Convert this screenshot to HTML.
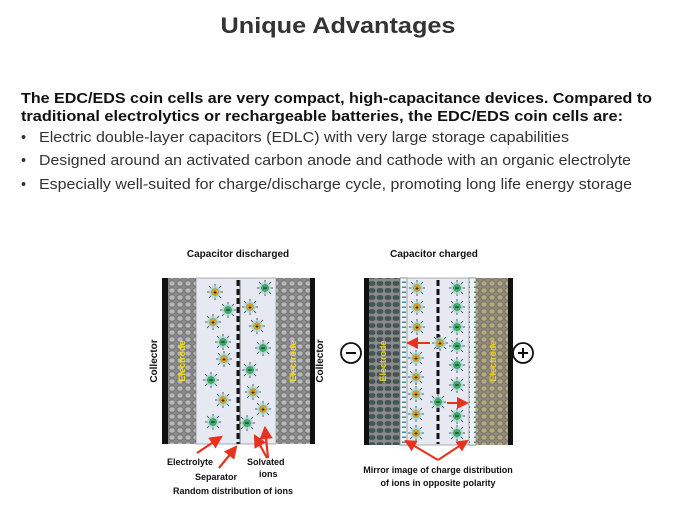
<!DOCTYPE html>
<html><head><meta charset="utf-8"><style>body{margin:0;background:#fff}svg{display:block}</style></head><body>
<svg width="675" height="506" viewBox="0 0 675 506" xmlns="http://www.w3.org/2000/svg" font-family="Liberation Sans, Arial, sans-serif">
<defs>
<pattern id="hex" width="8" height="7" patternUnits="userSpaceOnUse">
<rect width="8" height="7" fill="#8a8a8a"/><rect x="1" y="1" width="6" height="5" rx="2" fill="#b8b8b8" stroke="#555" stroke-width="0.6"/></pattern>
<pattern id="hexd" width="8" height="7" patternUnits="userSpaceOnUse">
<rect width="8" height="7" fill="#8a8a8a"/><rect x="1" y="1.5" width="6" height="4" rx="2" fill="#3d5a55" stroke="#444" stroke-width="0.6"/></pattern>
<pattern id="hext" width="8" height="7" patternUnits="userSpaceOnUse">
<rect width="8" height="7" fill="#8f8a7a"/><rect x="1" y="1" width="6" height="5" rx="2" fill="#b8aa80" stroke="#555" stroke-width="0.6"/></pattern>
<pattern id="strip" width="8" height="5" patternUnits="userSpaceOnUse">
<rect width="8" height="5" fill="#eef4f6"/><rect x="2" y="1.5" width="4" height="1.5" fill="#4a8a9a"/></pattern>
<g id="ip"><g stroke="#333" stroke-width="0.8"><line x1="-8" y1="0" x2="8" y2="0"/><line x1="0" y1="-8" x2="0" y2="8"/><line x1="-6" y1="-6" x2="6" y2="6"/><line x1="-6" y1="6" x2="6" y2="-6"/></g><circle r="6" fill="#a8dcd8" opacity="0.8"/><circle r="3.5" fill="#e0a020" stroke="#885" stroke-width="0.5"/><text y="2.5" font-size="6" text-anchor="middle" font-weight="bold">+</text></g>
<g id="im"><g stroke="#333" stroke-width="0.8"><line x1="-8" y1="0" x2="8" y2="0"/><line x1="0" y1="-8" x2="0" y2="8"/><line x1="-6" y1="-6" x2="6" y2="6"/><line x1="-6" y1="6" x2="6" y2="-6"/></g><circle r="6" fill="#a8dcd8" opacity="0.8"/><circle r="3.5" fill="#40b060" stroke="#265" stroke-width="0.5"/><rect x="-1.8" y="-0.4" width="3.6" height="0.9" fill="#000"/></g>
<marker id="ar" markerWidth="6" markerHeight="6" refX="5" refY="3" orient="auto"><path d="M0,0 L6,3 L0,6z" fill="#e8321e"/></marker>
</defs>
<text x="338" y="33" font-size="22" font-weight="bold" fill="#333" text-anchor="middle" textLength="235" lengthAdjust="spacingAndGlyphs">Unique Advantages</text>
<g font-size="14.5" fill="#111">
<text x="21" y="103" font-weight="bold" textLength="631" lengthAdjust="spacingAndGlyphs">The EDC/EDS coin cells are very compact, high-capacitance devices. Compared to</text>
<text x="21" y="121" font-weight="bold" textLength="602" lengthAdjust="spacingAndGlyphs">traditional electrolytics or rechargeable batteries, the EDC/EDS coin cells are:</text>
<g fill="#333">
<text x="21" y="142">•</text><text x="39" y="142" textLength="530" lengthAdjust="spacingAndGlyphs">Electric double-layer capacitors (EDLC) with very large storage capabilities</text>
<text x="21" y="165">•</text><text x="39" y="165" textLength="592" lengthAdjust="spacingAndGlyphs">Designed around an activated carbon anode and cathode with an organic electrolyte</text>
<text x="21" y="189">•</text><text x="39" y="189" textLength="593" lengthAdjust="spacingAndGlyphs">Especially well-suited for charge/discharge cycle, promoting long life energy storage</text>
</g></g>
<!-- left diagram -->
<text x="238" y="257" font-size="10" font-weight="bold" text-anchor="middle" fill="#111">Capacitor discharged</text>
<rect x="162" y="278" width="6" height="166" fill="#111"/>
<rect x="168" y="278" width="28" height="166" fill="url(#hex)"/>
<rect x="196" y="278" width="80" height="166" fill="#e6e9f2" stroke="#666" stroke-width="0.5"/>
<rect x="276" y="278" width="34" height="166" fill="url(#hex)"/>
<rect x="310" y="278" width="5" height="166" fill="#111"/>
<line x1="238" y1="280" x2="238" y2="444" stroke="#111" stroke-width="3" stroke-dasharray="6,3"/>
<line x1="240" y1="280" x2="240" y2="444" stroke="#666" stroke-width="1"/>
<text transform="translate(185,361) rotate(-90)" font-size="9" font-weight="bold" fill="#f0e020" text-anchor="middle">Electrode</text>
<text transform="translate(296,361) rotate(-90)" font-size="9" font-weight="bold" fill="#f0e020" text-anchor="middle">Electrode</text>
<text transform="translate(157,361) rotate(-90)" font-size="10" font-weight="bold" fill="#111" text-anchor="middle">Collector</text>
<text transform="translate(323,361) rotate(-90)" font-size="10" font-weight="bold" fill="#111" text-anchor="middle">Collector</text>
<use href="#ip" x="215" y="292"/><use href="#im" x="265" y="288"/><use href="#im" x="228" y="310"/><use href="#ip" x="250" y="307"/><use href="#ip" x="213" y="322"/><use href="#ip" x="257" y="326"/><use href="#im" x="223" y="342"/><use href="#im" x="263" y="348"/><use href="#ip" x="224" y="359"/><use href="#im" x="250" y="370"/><use href="#im" x="211" y="380"/><use href="#ip" x="253" y="392"/><use href="#ip" x="223" y="400"/><use href="#ip" x="263" y="409"/><use href="#im" x="213" y="422"/><use href="#im" x="247" y="423"/>
<g stroke="#e8321e" stroke-width="2.2" fill="none" marker-end="url(#ar)">
<line x1="197" y1="453" x2="221" y2="437"/><line x1="219" y1="468" x2="236" y2="447"/><line x1="267" y1="458" x2="255" y2="436"/><line x1="268" y1="458" x2="265" y2="428"/></g>
<g font-size="9" font-weight="bold" fill="#111">
<text x="167" y="465">Electrolyte</text><text x="195" y="480">Separator</text><text x="247" y="465">Solvated</text><text x="259" y="477">ions</text>
<text x="173" y="494">Random distribution of ions</text></g>
<!-- right diagram -->
<text x="434" y="257" font-size="10" font-weight="bold" text-anchor="middle" fill="#111">Capacitor charged</text>
<rect x="364" y="278" width="5" height="167" fill="#111"/>
<rect x="369" y="278" width="31" height="167" fill="url(#hexd)"/>
<rect x="400" y="278" width="76" height="167" fill="#e6e9f2" stroke="#666" stroke-width="0.5"/>
<rect x="400" y="278" width="7" height="167" fill="url(#strip)" stroke="#555" stroke-width="0.5"/>
<rect x="469" y="278" width="7" height="167" fill="url(#strip)" stroke="#555" stroke-width="0.5"/>
<rect x="476" y="278" width="32" height="167" fill="url(#hext)"/>
<rect x="508" y="278" width="5" height="167" fill="#111"/>
<line x1="438" y1="280" x2="438" y2="444" stroke="#111" stroke-width="3" stroke-dasharray="6,3"/>
<text transform="translate(386,361) rotate(-90)" font-size="9" font-weight="bold" fill="#e8d020" text-anchor="middle">Electrode</text>
<text transform="translate(496,361) rotate(-90)" font-size="9" font-weight="bold" fill="#e8d020" text-anchor="middle">Electrode</text>
<circle cx="351" cy="353" r="10" fill="#fff" stroke="#111" stroke-width="1.8"/><line x1="346" y1="353" x2="356" y2="353" stroke="#111" stroke-width="2"/>
<circle cx="523" cy="353" r="10" fill="#fff" stroke="#111" stroke-width="1.8"/><line x1="518" y1="353" x2="528" y2="353" stroke="#111" stroke-width="2"/><line x1="523" y1="348" x2="523" y2="358" stroke="#111" stroke-width="2"/>
<use href="#ip" x="417" y="288"/><use href="#im" x="457" y="288"/><use href="#ip" x="417" y="307"/><use href="#im" x="457" y="307"/><use href="#ip" x="417" y="327"/><use href="#im" x="457" y="327"/><use href="#ip" x="440" y="343"/><use href="#im" x="457" y="346"/><use href="#ip" x="416" y="358"/><use href="#im" x="457" y="365"/><use href="#ip" x="416" y="377"/><use href="#im" x="457" y="385"/><use href="#ip" x="416" y="394"/><use href="#im" x="438" y="402"/><use href="#ip" x="416" y="414"/><use href="#im" x="457" y="416"/><use href="#ip" x="416" y="433"/><use href="#im" x="457" y="433"/>
<g stroke="#e8321e" stroke-width="2" fill="none" marker-end="url(#ar)">
<line x1="430" y1="343" x2="408" y2="343"/><line x1="447" y1="403" x2="467" y2="403"/>
<line x1="438" y1="460" x2="406" y2="441"/><line x1="438" y1="460" x2="467" y2="441"/></g>
<g font-size="9" font-weight="bold" fill="#111" text-anchor="middle">
<text x="438" y="473">Mirror image of charge distribution</text><text x="438" y="486">of ions in opposite polarity</text></g>
</svg>
</body></html>
